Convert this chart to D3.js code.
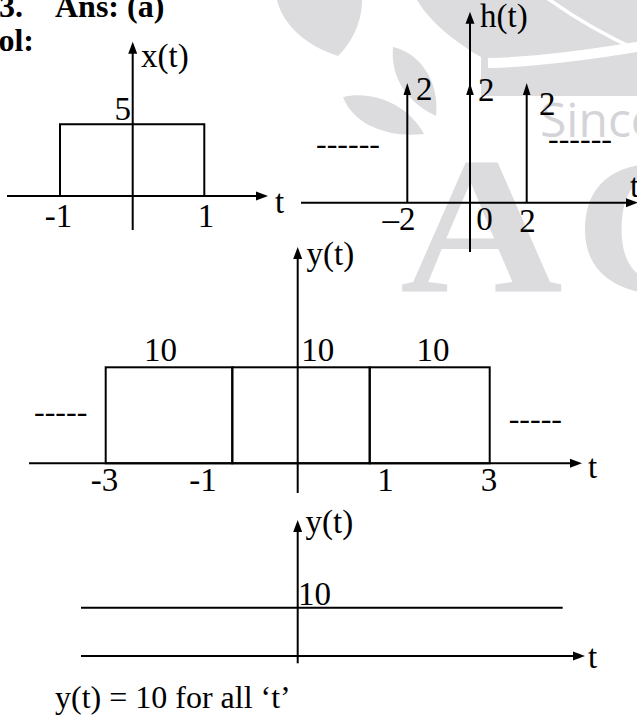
<!DOCTYPE html>
<html><head><meta charset="utf-8">
<script src="https://cdn.jsdelivr.net/npm/d3@7"></script>
<style>
html,body{margin:0;padding:0;background:#fff;overflow:hidden}
svg{display:block}
</style></head><body>
<script>
// ---------------- data ----------------
const xPulseT = [-1, 1];          // x(t) rectangular pulse edges
const xPulseAmp = [5];            // x(t) amplitude
const xTickVals = [-1, 1];
const xTickLabels = ["-1", "1"];

const hImpulseT = [-2, 0, 2];     // h(t) impulse locations
const hImpulseArea = [2, 2, 2];   // impulse strengths
const hTickVals = [-2, 0, 2];
const hTickLabels = ["\u20132", "0", "2"];

const ySegStart = [-3, -1, 1];    // y(t) shifted pulse pieces
const ySegEnd = [-1, 1, 3];
const ySegValue = [10, 10, 10];
const yTickVals = [-3, -1, 1, 3];
const yTickLabels = ["-3", "-1", "1", "3"];

const yFinalValue = [10];         // y(t) = 10 for all t

// ---------------- drawing ----------------
const W = 637, H = 715;
const FONT = '"Liberation Serif","Times New Roman",serif';
const LS = 33;   // label font size
const svg = d3.select("body").append("svg").attr("width", W).attr("height", H);

// ---- faint watermark (background logo) ----
const GRAY = "#dcdcdf";
const wm = svg.append("g");
wm.append("path").attr("fill", GRAY)
  .attr("d", "M277,0 L362,0 C362,22 352,42 338,56 C305,45 283,25 277,0 Z");
wm.append("path").attr("fill", GRAY)
  .attr("d", "M393,47 C418,52 440,80 436,116 C410,104 390,80 393,47 Z");
wm.append("path").attr("fill", GRAY)
  .attr("d", "M343,97 C372,90 408,104 424,134 C390,138 354,126 343,97 Z");
wm.append("path").attr("fill", GRAY)
  .attr("d", "M417,0 L637,0 L637,96 L481,96 L481,57 C455,42 430,22 417,0 Z");
wm.append("path").attr("fill", "none").attr("stroke", "#fff").attr("stroke-width", 10)
  .attr("d", "M488,63 C540,62 600,53 642,46");
wm.append("path").attr("fill", "none").attr("stroke", "#fff").attr("stroke-width", 3.5)
  .attr("d", "M547,-2 C575,18 605,36 642,52");
wm.append("text").attr("transform", "translate(400,292) scale(1.15,1)")
  .attr("font-family", FONT).attr("font-weight", "bold").attr("font-size", 196)
  .attr("fill", GRAY).text("A");
wm.append("text").attr("transform", "translate(574,292) scale(1.15,1)")
  .attr("font-family", FONT).attr("font-weight", "bold").attr("font-size", 196)
  .attr("fill", GRAY).text("C");
wm.append("text").attr("x", 540).attr("y", 137)
  .attr("font-family", '"Open Sans","Noto Sans",sans-serif').attr("font-size", 48)
  .attr("fill", "#d4d4d8").text("Since");

const g = svg.append("g");

function txt(x, y, s, opt = {}) {
  return g.append("text").attr("x", x).attr("y", y)
    .attr("font-family", FONT)
    .attr("font-size", opt.size || LS)
    .attr("font-weight", opt.weight || "normal")
    .attr("text-anchor", opt.anchor || "start")
    .attr("fill", "#000").text(s);
}
function line(x1, y1, x2, y2, w = 2) {
  g.append("line").attr("x1", x1).attr("y1", y1).attr("x2", x2).attr("y2", y2)
    .attr("stroke", "#000").attr("stroke-width", w);
}
function arrow(x, y, dir, len = 12, hw = 4.5) {
  const p = dir === "up"
    ? [[x, y], [x - hw, y + len], [x + hw, y + len]]
    : [[x, y], [x - len, y - hw], [x - len, y + hw]];
  g.append("path").attr("d", d3.line()(p) + "Z").attr("fill", "#000");
}
function hAxis(y, x0, tip) { line(x0, y, tip - 10, y); arrow(tip, y, "right"); }
function vAxis(x, y0, tip) { line(x, y0, x, tip + 10); arrow(x, tip, "up"); }

// ---- header ----
txt(-1, 17, "3.", { size: 32, weight: "bold" });
txt(55, 17, "Ans: (a)", { size: 32, weight: "bold" });
txt(34, 51, "Sol:", { size: 32, weight: "bold", anchor: "end" });

// ---- x(t) ----
{
  const xs = d3.scaleLinear().domain([-1, 0, 1]).range([60, 132.7, 204.3]);
  const ys = d3.scaleLinear().domain([0, 5]).range([196, 124.3]);
  const lx = d3.scaleLinear().domain([-1, 1]).range([58.5, 206]);
  hAxis(ys(0), 7, 268);
  vAxis(xs(0), 230, 41.7);
  const a = xPulseAmp[0];
  g.append("path").attr("fill", "none").attr("stroke", "#000").attr("stroke-width", 2)
    .attr("d", d3.line()([[xs(xPulseT[0]), ys(0)], [xs(xPulseT[0]), ys(a)],
                          [xs(xPulseT[1]), ys(a)], [xs(xPulseT[1]), ys(0)]]));
  txt(141, 67, "x(t)");
  txt(131, 120, String(a), { anchor: "end" });
  xTickVals.forEach((v, i) => txt(lx(v), 227, xTickLabels[i], { anchor: "middle" }));
  txt(275, 213, "t");
}

// ---- h(t) ----
{
  const xs = d3.scaleLinear().domain([-2, 0, 2]).range([407.3, 470, 526.7]);
  const ys = d3.scaleLinear().domain([0, 2]).range([202.7, 83]);
  const lx = d3.scaleLinear().domain([-2, 0, 2]).range([399, 484.5, 527.5]);
  hAxis(ys(0), 301, 638);
  vAxis(xs(0), 252, 11.7);
  hImpulseT.forEach((t, i) => {
    line(xs(t), ys(0), xs(t), ys(hImpulseArea[i]) + 10);
    arrow(xs(t), ys(hImpulseArea[i]), "up", 12, 3.8);
  });
  const areaLabelPos = [[416, 100], [478, 101], [539, 115]];
  hImpulseT.forEach((t, i) => txt(areaLabelPos[i][0], areaLabelPos[i][1], String(hImpulseArea[i])));
  hTickVals.forEach((v, i) => txt(lx(v), i === 2 ? 232 : 230, hTickLabels[i], { anchor: "middle" }));
  txt(480, 27, "h(t)");
  txt(630, 197, "t");
  txt(316, 154, "------", { size: 32 });
  txt(548, 149, "------", { size: 32 });
}

// ---- y(t) = x(t)*h(t), pieces ----
const xsY = d3.scaleLinear().domain([-3, -1, 0, 1, 3]).range([105.7, 232.3, 297.7, 369.7, 489.7]);
{
  const ys = d3.scaleLinear().domain([0, 10]).range([463.3, 367.3]);
  const lx = d3.scaleLinear().domain([-3, -1, 1, 3]).range([104.5, 203, 385.5, 489]);
  hAxis(ys(0), 29, 582);
  vAxis(xsY(0), 493, 247);
  ySegStart.forEach((s, i) => {
    g.append("rect").attr("x", xsY(s)).attr("y", ys(ySegValue[i]))
      .attr("width", xsY(ySegEnd[i]) - xsY(s)).attr("height", ys(0) - ys(ySegValue[i]))
      .attr("fill", "none").attr("stroke", "#000").attr("stroke-width", 2);
  });
  const valLabelPos = [[160.6, "middle"], [301.3, "start"], [433, "middle"]];
  ySegValue.forEach((v, i) => txt(valLabelPos[i][0], 360.5, String(v), { anchor: valLabelPos[i][1] }));
  yTickVals.forEach((v, i) => txt(lx(v), 491, yTickLabels[i], { anchor: "middle" }));
  txt(306.5, 265, "y(t)");
  txt(588, 478, "t");
  txt(34, 422, "-----", { size: 32 });
  txt(508.7, 428.5, "-----", { size: 32 });
}

// ---- final y(t) ----
{
  const ys = d3.scaleLinear().domain([0, 10]).range([656, 607.7]);
  vAxis(xsY(0), 663.3, 520);
  hAxis(ys(0), 81, 585);
  line(81, ys(yFinalValue[0]), 562.7, ys(yFinalValue[0]));
  txt(305.5, 533, "y(t)");
  txt(298, 605, String(yFinalValue[0]));
  txt(588, 668, "t");
  txt(55, 708, "y(t) = 10 for all \u2018t\u2019", { size: 32 });
}
</script>
</body></html>
